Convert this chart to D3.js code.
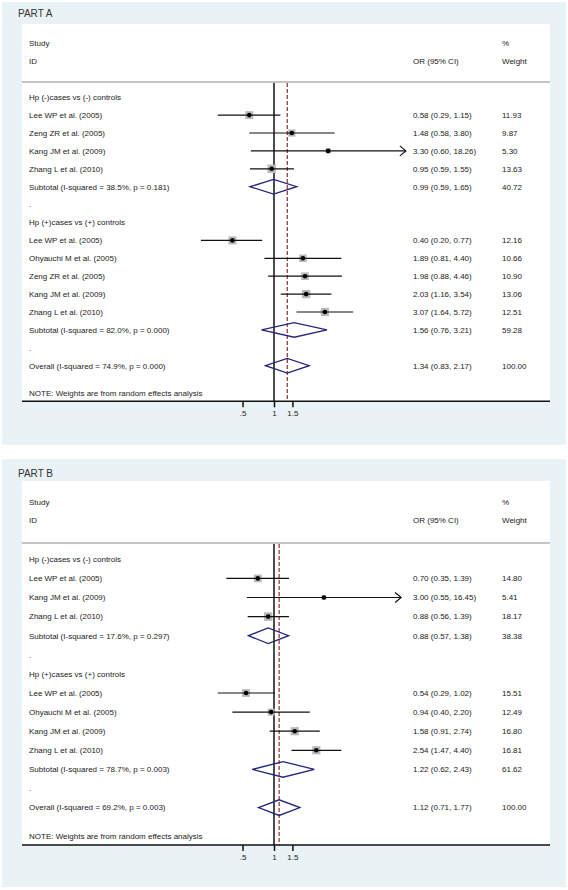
<!DOCTYPE html>
<html>
<head>
<meta charset="utf-8">
<script src="https://cdn.jsdelivr.net/npm/d3@7"></script>
<style>
  html, body { margin: 0; padding: 0; background: #ffffff; }
  svg { display: block; }
  text { font-family: "Liberation Sans", Arial, Helvetica, sans-serif; fill: #222; }
</style>
</head>
<body>
<svg id="chart" width="568" height="890"></svg>
<script>
// ---------------- DATA ----------------
const titles = ["PART A", "PART B"];
const headerStudy = ["Study", "ID"];
const headerEffect = "OR (95% CI)";
const headerWeight = ["%", "Weight"];
const noteText = "NOTE: Weights are from random effects analysis";
const tickValues = [0.5, 1, 1.5];
const tickLabels = [".5", "1", "1.5"];

// Part A
const labelsA = [
  "Hp (-)cases vs (-) controls",
  "Lee WP et al. (2005)",
  "Zeng ZR et al. (2005)",
  "Kang JM et al. (2009)",
  "Zhang L et al. (2010)",
  "Subtotal  (I-squared = 38.5%, p = 0.181)",
  ".",
  "Hp (+)cases vs (+) controls",
  "Lee WP et al. (2005)",
  "Ohyauchi M et al. (2005)",
  "Zeng ZR et al. (2005)",
  "Kang JM et al. (2009)",
  "Zhang L et al. (2010)",
  "Subtotal  (I-squared = 82.0%, p = 0.000)",
  ".",
  "Overall  (I-squared = 74.9%, p = 0.000)"
];
const kindA = ["head","study","study","study","study","pooled","blank","head","study","study","study","study","study","pooled","blank","pooled"];
const orA =  [null, 0.58, 1.48, 3.30, 0.95, 0.99, null, null, 0.40, 1.89, 1.98, 2.03, 3.07, 1.56, null, 1.34];
const loA =  [null, 0.29, 0.58, 0.60, 0.59, 0.59, null, null, 0.20, 0.81, 0.88, 1.16, 1.64, 0.76, null, 0.83];
const hiA =  [null, 1.15, 3.80, 18.26, 1.55, 1.65, null, null, 0.77, 4.40, 4.46, 3.54, 5.72, 3.21, null, 2.17];
const wA =   [null, 11.93, 9.87, 5.30, 13.63, 40.72, null, null, 12.16, 10.66, 10.90, 13.06, 12.51, 59.28, null, 100.00];

// Part B
const labelsB = [
  "Hp (-)cases vs (-) controls",
  "Lee WP et al. (2005)",
  "Kang JM et al. (2009)",
  "Zhang L et al. (2010)",
  "Subtotal  (I-squared = 17.6%, p = 0.297)",
  ".",
  "Hp (+)cases vs (+) controls",
  "Lee WP et al. (2005)",
  "Ohyauchi M et al. (2005)",
  "Kang JM et al. (2009)",
  "Zhang L et al. (2010)",
  "Subtotal  (I-squared = 78.7%, p = 0.003)",
  ".",
  "Overall  (I-squared = 69.2%, p = 0.003)"
];
const kindB = ["head","study","study","study","pooled","blank","head","study","study","study","study","pooled","blank","pooled"];
const orB = [null, 0.70, 3.00, 0.88, 0.88, null, null, 0.54, 0.94, 1.58, 2.54, 1.22, null, 1.12];
const loB = [null, 0.35, 0.55, 0.56, 0.57, null, null, 0.29, 0.40, 0.91, 1.47, 0.62, null, 0.71];
const hiB = [null, 1.39, 16.45, 1.39, 1.38, null, null, 1.02, 2.20, 2.74, 4.40, 2.43, null, 1.77];
const wB =  [null, 14.80, 5.41, 18.17, 38.38, null, null, 15.51, 12.49, 16.80, 16.81, 61.62, null, 100.00];

// ---------------- LAYOUT ----------------
const W = 568;
const bgColor = "#e9f2f5";
const diamondColor = "#25257a";
const refColor = "#9b3b3b";
const boxColor = "#b9b9b9";
const arrowThreshold = 10; // CIs beyond this are drawn with an arrow

const panels = [
  { title: titles[0], labels: labelsA, kind: kindA, or: orA, lo: loA, hi: hiA, w: wA,
    bgY0: 2, bgY1: 445, whiteY0: 24, titleY: 13.5, studyY: 43.3, idY: 61.3, sepY: 82,
    firstY: 97.2, step: 17.9, noteY: 393.3, axisY: 401.3 },
  { title: titles[1], labels: labelsB, kind: kindB, or: orB, lo: loB, hi: hiB, w: wB,
    bgY0: 459, bgY1: 887, whiteY0: 481, titleY: 473, studyY: 501.7, idY: 520, sepY: 543,
    firstY: 559.3, step: 19.1, noteY: 836, axisY: 845 }
];

const xLeft = 22, xRight = 550;
const xNull = 274, pxPerLn = 45.4;
const x = d3.scaleLog()
  .domain([0.5, 1.5])
  .range([xNull + pxPerLn * Math.log(0.5), xNull + pxPerLn * Math.log(1.5)]);

const colLabel = 29, colEffect = 413, colWeight = 502;
const fmt = d3.format(".2f");

const svg = d3.select("#chart");

panels.forEach(p => {
  const g = svg.append("g");
  const n = p.labels.length;
  const y = d3.scaleLinear().domain([0, 1]).range([p.firstY, p.firstY + p.step]);
  const wMax = d3.max(p.w.filter((d, i) => p.kind[i] === "study"));
  const boxMax = 8.5;

  // background
  g.append("rect").attr("x", 2).attr("y", p.bgY0).attr("width", W - 4).attr("height", p.bgY1 - p.bgY0)
    .attr("fill", bgColor);
  g.append("rect").attr("x", xLeft).attr("y", p.whiteY0).attr("width", xRight - xLeft)
    .attr("height", p.axisY - p.whiteY0).attr("fill", "#ffffff");

  // title
  g.append("text").attr("x", 18).attr("y", p.titleY).attr("dy", "0.35em")
    .style("font-size", "10px").style("fill", "#333").text(p.title);

  // headers
  const fs = "8px";
  g.append("text").attr("x", colLabel).attr("y", p.studyY).attr("dy", "0.35em").style("font-size", fs).text(headerStudy[0]);
  g.append("text").attr("x", colLabel).attr("y", p.idY).attr("dy", "0.35em").style("font-size", fs).text(headerStudy[1]);
  g.append("text").attr("x", colEffect).attr("y", p.idY).attr("dy", "0.35em").style("font-size", fs).text(headerEffect);
  g.append("text").attr("x", colWeight).attr("y", p.studyY).attr("dy", "0.35em").style("font-size", fs).text(headerWeight[0]);
  g.append("text").attr("x", colWeight).attr("y", p.idY).attr("dy", "0.35em").style("font-size", fs).text(headerWeight[1]);

  // separator
  g.append("line").attr("x1", xLeft).attr("x2", xRight).attr("y1", p.sepY).attr("y2", p.sepY)
    .attr("stroke", "#c4c4c4").attr("stroke-width", 2);

  // null line
  g.append("line").attr("x1", x(1)).attr("x2", x(1)).attr("y1", p.sepY + 1).attr("y2", p.axisY)
    .attr("stroke", "#111").attr("stroke-width", 1.5);

  // overall reference (dashed)
  const overallIdx = p.kind.lastIndexOf("pooled");
  g.append("line").attr("x1", x(p.or[overallIdx])).attr("x2", x(p.or[overallIdx]))
    .attr("y1", p.sepY + 1).attr("y2", p.axisY)
    .attr("stroke", refColor).attr("stroke-width", 1.3).attr("stroke-dasharray", "4,2");

  // rows
  for (let i = 0; i < n; i++) {
    const yy = y(i);
    g.append("text").attr("x", colLabel).attr("y", yy).attr("dy", "0.35em").style("font-size", fs).text(p.labels[i]);
    if (p.or[i] == null) continue;
    g.append("text").attr("x", colEffect).attr("y", yy).attr("dy", "0.35em").style("font-size", fs)
      .text(`${fmt(p.or[i])} (${fmt(p.lo[i])}, ${fmt(p.hi[i])})`);
    g.append("text").attr("x", colWeight).attr("y", yy).attr("dy", "0.35em").style("font-size", fs)
      .text(fmt(p.w[i]));

    if (p.kind[i] === "study") {
      const side = boxMax * Math.sqrt(p.w[i] / wMax);
      g.append("rect").attr("x", x(p.or[i]) - side / 2).attr("y", yy - side / 2)
        .attr("width", side).attr("height", side).attr("fill", boxColor);
      g.append("line").attr("x1", x(p.lo[i])).attr("x2", x(p.hi[i])).attr("y1", yy).attr("y2", yy)
        .attr("stroke", "#111").attr("stroke-width", 1.2);
      if (p.hi[i] > arrowThreshold) {
        const xt = x(p.hi[i]);
        g.append("path").attr("d", `M${xt - 6},${yy - 5} L${xt},${yy} L${xt - 6},${yy + 5}`)
          .attr("fill", "none").attr("stroke", "#111").attr("stroke-width", 1.2);
      }
      g.append("circle").attr("cx", x(p.or[i])).attr("cy", yy).attr("r", 2.3).attr("fill", "#000");
    } else {
      const h = p.step * 0.41;
      const pts = [[x(p.lo[i]), yy], [x(p.or[i]), yy - h], [x(p.hi[i]), yy], [x(p.or[i]), yy + h]];
      g.append("path").attr("d", d3.line()(pts) + "Z")
        .attr("fill", "none").attr("stroke", diamondColor).attr("stroke-width", 1.3);
    }
  }

  // note
  g.append("text").attr("x", colLabel).attr("y", p.noteY).attr("dy", "0.35em").style("font-size", fs).text(noteText);

  // axis
  g.append("line").attr("x1", xLeft).attr("x2", xRight).attr("y1", p.axisY).attr("y2", p.axisY)
    .attr("stroke", "#111").attr("stroke-width", 1.5);
  const axis = d3.axisBottom(x).tickValues(tickValues).tickSize(6)
    .tickFormat((d, i) => tickLabels[i]);
  const ag = g.append("g").attr("transform", `translate(0,${p.axisY})`).call(axis);
  ag.select(".domain").remove();
  ag.selectAll(".tick line").attr("stroke", "#111").attr("stroke-width", 1.5);
  ag.selectAll(".tick text").attr("y", 9).attr("dy", "0.71em")
    .style("font-size", "8px").style("font-family", "Liberation Sans, Arial, sans-serif").attr("fill", "#222");
});
</script>
</body>
</html>
